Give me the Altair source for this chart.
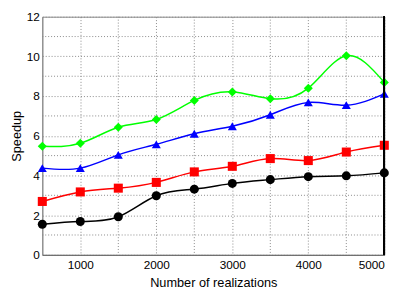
import altair as alt
import pandas as pd

x_vals = [500, 1000, 1500, 2000, 2500, 3000, 3500, 4000, 4500, 5000]
black = [1.54, 1.68, 1.92, 2.98, 3.31, 3.60, 3.79, 3.94, 3.98, 4.13]
red = [2.69, 3.17, 3.36, 3.65, 4.18, 4.46, 4.85, 4.75, 5.18, 5.52]
blue = [4.37, 4.37, 5.04, 5.57, 6.10, 6.48, 7.06, 7.68, 7.54, 8.11]
green = [5.47, 5.62, 6.43, 6.82, 7.78, 8.21, 7.87, 8.40, 10.03, 8.69]

x_label_ticks = [1000, 2000, 3000, 4000, 5000]
x_minor_grid = [1500, 2500, 3500, 4500]
y_label_ticks = [0, 2, 4, 6, 8, 10, 12]
y_minor_grid = [1, 3, 5, 7, 9, 11]

series_names = ["s1", "s2", "s3", "s4"]
series_vals = [black, red, blue, green]
colors = ["#000000", "#ff0000", "#0000ff", "#00ff00"]
shapes = ["circle", "square", "triangle-up", "diamond"]

rows = []
for name, vals in zip(series_names, series_vals):
    for xv, yv in zip(x_vals, vals):
        rows.append({"n": xv, "speedup": yv, "series": name})
df = pd.DataFrame(rows)

xs = alt.Scale(domain=[500, 5000], nice=False, zero=False)
ys = alt.Scale(domain=[0, 12], nice=False)

x_enc = alt.X("n:Q", title="Number of realizations", scale=xs,
              axis=alt.Axis(values=x_label_ticks, format="d",
                            grid=True, gridDash=[1, 2], gridColor="#888888",
                            domainColor="#666666", ticks=False,
                            labelPadding=5, titlePadding=6))
y_enc = alt.Y("speedup:Q", title="Speedup", scale=ys,
              axis=alt.Axis(values=y_label_ticks, format="d",
                            grid=True, gridDash=[1, 2], gridColor="#888888",
                            domainColor="#888888", ticks=False,
                            labelPadding=3, titlePadding=3))
color_enc = alt.Color("series:N", scale=alt.Scale(domain=series_names, range=colors), legend=None)
shape_enc = alt.Shape("series:N", scale=alt.Scale(domain=series_names, range=shapes), legend=None)

gx = alt.Chart(pd.DataFrame({"g": x_minor_grid})).mark_rule(
    color="#888888", strokeDash=[1, 2], strokeWidth=1).encode(x=alt.X("g:Q", scale=xs))
gy = alt.Chart(pd.DataFrame({"g": y_minor_grid})).mark_rule(
    color="#888888", strokeDash=[1, 2], strokeWidth=1).encode(y=alt.Y("g:Q", scale=ys))

lines = alt.Chart(df).mark_line(interpolate="natural", strokeWidth=1.5).encode(
    x=x_enc, y=y_enc, color=color_enc, detail="series:N")
points = alt.Chart(df).mark_point(filled=True, opacity=1, size=85).encode(
    x="n:Q", y="speedup:Q", color=color_enc, shape=shape_enc)
right_border = alt.Chart(df).mark_rule(color="#000000", strokeWidth=1).encode(
    x=alt.value(349), y=alt.value(0), y2=alt.value(243))

chart = alt.layer(gx, gy, lines, points, right_border).properties(
    width=349, height=243,
    autosize=alt.AutoSizeParams(type="none"),
    padding={"left": 35, "top": 6, "right": 15, "bottom": 33},
).configure_view(
    stroke="#888888", strokeWidth=1
).configure_axis(
    labelFont="Liberation Sans", titleFont="Liberation Sans",
    labelFontSize=12, titleFontSize=13, labelColor="#000000", titleColor="#000000",
    titleFontWeight="normal"
)

chart.save("out.html", embed_options={"renderer": "svg", "actions": False})
